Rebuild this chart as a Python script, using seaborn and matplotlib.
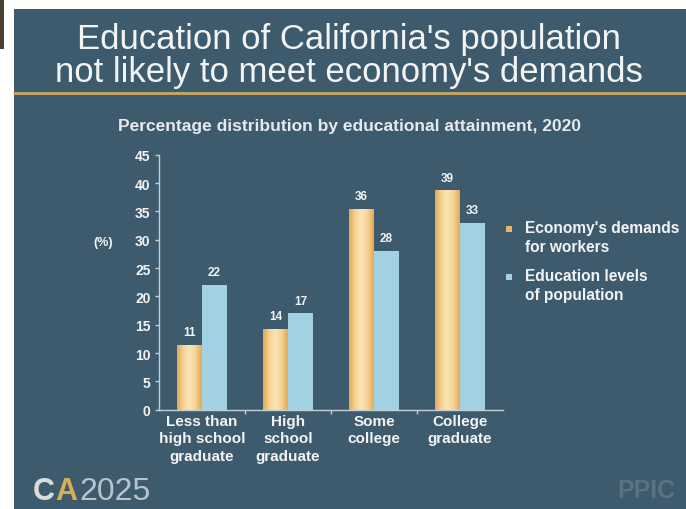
import matplotlib
matplotlib.use("Agg")
import matplotlib.pyplot as plt
import seaborn as sns
import numpy as np
import pandas as pd
from matplotlib.patches import Rectangle
from matplotlib.colors import LinearSegmentedColormap

# ---- data ----
categories = ["Less than\nhigh school\ngraduate", "High\nschool\ngraduate", "Some\ncollege", "College\ngraduate"]
series_names = ["Economy's demands\nfor workers", "Education levels\nof population"]
demand = [11.4, 14.2, 35.5, 38.7]
demand_labels = ["11", "14", "36", "39"]
population = [22.0, 17.0, 28.0, 33.0]
population_labels = ["22", "17", "28", "33"]
y_ticks = [0, 5, 10, 15, 20, 25, 30, 35, 40, 45]

BG = "#3e5b6d"
ORANGE = "#eab566"
BLUE = "#a2d2e2"
WHITE = "#f2f4f4"

sns.set_theme(style="white")
plt.rcParams['font.family'] = ['Liberation Sans', 'DejaVu Sans']

W, H = 686, 510
fig = plt.figure(figsize=(W / 100, H / 100), dpi=100)
fig.patch.set_facecolor("white")

def fx(x): return x / W
def fy(y): return 1 - y / H

# slide background
fig.patches.append(Rectangle((fx(14), 0), 1 - fx(14), fy(10), transform=fig.transFigure,
                             facecolor=BG, edgecolor="none", zorder=-10))
fig.patches.append(Rectangle((0, fy(50)), fx(4), fy(0) - fy(50), transform=fig.transFigure,
                             facecolor="#4b4032", edgecolor="none", zorder=-10))
# gold rule under title
fig.add_artist(plt.Line2D([fx(14), 1], [fy(94), fy(94)], transform=fig.transFigure,
                          color="#c9a95e", lw=2))

# titles
fig.text(fx(349), fy(49), "Education of California's population", ha="center", va="baseline",
         color=WHITE, fontsize=25)
fig.text(fx(349), fy(82), "not likely to meet economy's demands", ha="center", va="baseline",
         color=WHITE, fontsize=25)
fig.text(fx(349), fy(127), "Percentage distribution by educational attainment, 2020",
         ha="center", va="center", color="#e6eaec", fontsize=12.5, fontweight="bold")
fig.text(fx(103), fy(243), "(%)", ha="center", va="center", color=WHITE,
         fontsize=9, fontweight="bold")

# logos
fig.text(fx(33), fy(500), "C", ha="left", va="baseline", color="#d8dcdc", fontsize=22, fontweight="bold")
fig.text(fx(55), fy(500), "A", ha="left", va="baseline", color="#d6ae55", fontsize=22, fontweight="bold")
fig.text(fx(79), fy(500), "2025", ha="left", va="baseline", color="#b8c4cc", fontsize=23)
fig.text(fx(646), fy(491), "PPIC", ha="center", va="center", color="#587383", fontsize=18, fontweight="bold")

# ---- chart ----
ax = fig.add_axes([fx(159), fy(410.7), fx(503) - fx(159), fy(155.7) - fy(410.7)])
ax.set_facecolor("none")

df = pd.DataFrame({
    "cat": categories * 2,
    "series": [series_names[0]] * 4 + [series_names[1]] * 4,
    "value": demand + population,
})
sns.barplot(data=df, x="cat", y="value", hue="series", order=categories, hue_order=series_names,
            palette=[ORANGE, BLUE], width=0.58, gap=0, saturation=1, errorbar=None,
            legend=False, ax=ax, edgecolor="none", linewidth=0)

# gradient on orange bars
cmap = LinearSegmentedColormap.from_list("g", ["#e3a955", "#f6d394", "#fbe6b6", "#f6d394", "#e3a955"])
grad = np.linspace(0, 1, 64).reshape(1, -1)
patches = ax.patches
for i, p in enumerate(patches[:4]):
    x0, w, h = p.get_x(), p.get_width(), p.get_height()
    im = ax.imshow(grad, extent=[x0, x0 + w, 0, h], aspect="auto", cmap=cmap, zorder=p.get_zorder() + 0.1)
    im.set_clip_path(p)

labels_all = demand_labels + population_labels
for p, lab in zip(patches[:8], labels_all):
    ax.text(p.get_x() + p.get_width() / 2, p.get_height() + 1.2, lab, ha="center", va="bottom",
            color=WHITE, fontsize=8.5, fontweight="bold")

ax.set_xlim(-0.5, 3.5)
ax.set_ylim(0, 45)
ax.set_yticks(y_ticks)
ax.set_xlabel("")
ax.set_ylabel("")
for s in ["top", "right"]:
    ax.spines[s].set_visible(False)
for s in ["left", "bottom"]:
    ax.spines[s].set_color("#c5ced4")
    ax.spines[s].set_linewidth(1)
ax.tick_params(axis="y", colors="#c5ced4", length=3, width=1, pad=3, labelsize=10,
               labelcolor=WHITE, left=True)
for t in ax.get_yticklabels():
    t.set_fontweight("bold")
ax.set_xticks([0, 1, 2, 3])
ax.set_xticklabels(categories, fontsize=11, fontweight="bold", color=WHITE, linespacing=1.32)
ax.tick_params(axis="x", length=0, pad=3)
ax.set_xticks([0.5, 1.5, 2.5], minor=True)
ax.tick_params(axis="x", which="minor", length=3, width=1, color="#c5ced4", bottom=True)

# legend
for (yy, col, txt) in [(230, ORANGE, series_names[0]), (278, BLUE, series_names[1])]:
    fig.patches.append(Rectangle((fx(506), fy(yy + 3)), fx(6), fy(yy - 3) - fy(yy + 3),
                                 transform=fig.transFigure, facecolor=col, edgecolor="none"))
    fig.text(fx(525), fy(yy - 9), txt, ha="left", va="top", color=WHITE, fontsize=11.2,
             fontweight="bold", linespacing=1.3)

fig.savefig("out.png", dpi=100, facecolor=fig.get_facecolor())
